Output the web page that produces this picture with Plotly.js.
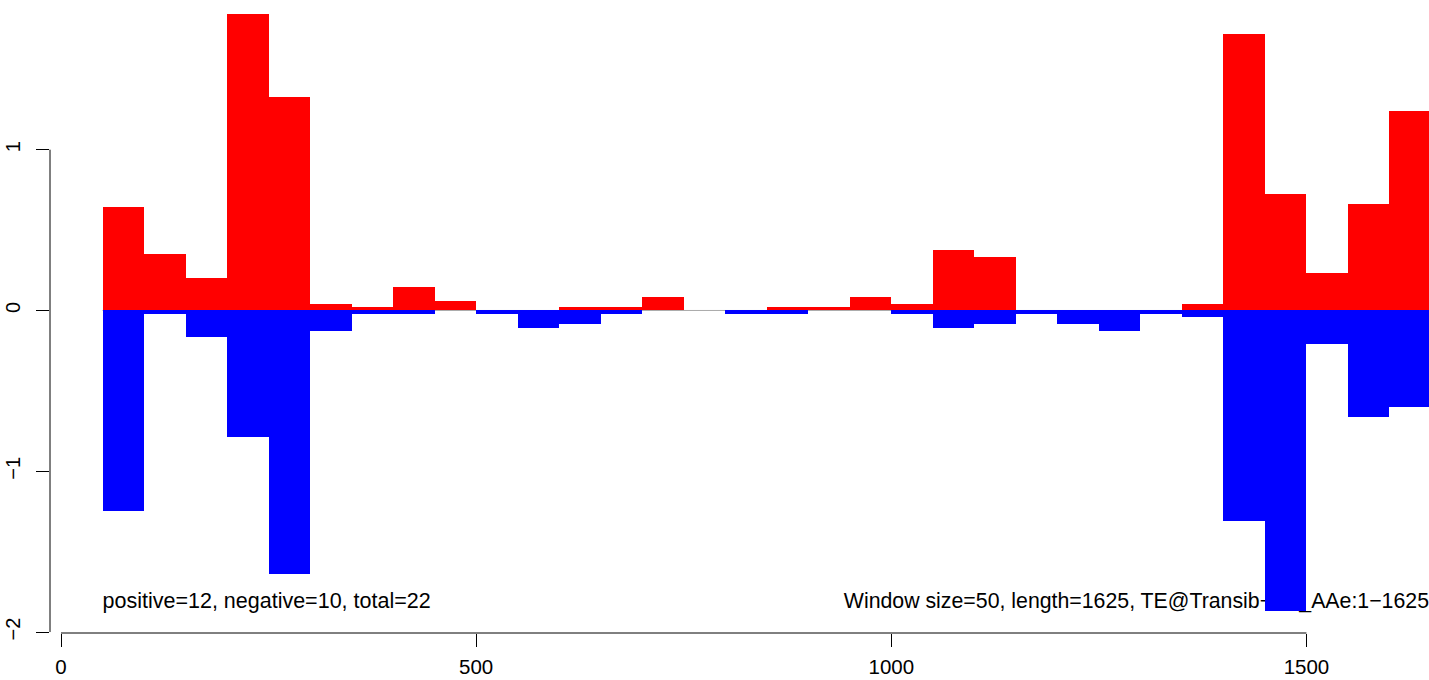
<!DOCTYPE html>
<html>
<head>
<meta charset="utf-8">
<script src="https://cdn.plot.ly/plotly-3.0.1.min.js"></script>
<style>html,body{margin:0;padding:0;background:#fff;}#chart{width:1429px;height:680px;}</style>
</head>
<body>
<div id="chart"></div>
<script>
// Window start positions (window size 50)
const windowStart = [50,100,150,200,250,300,350,400,450,500,550,600,650,700,750,800,
                     850,900,950,1000,1050,1100,1150,1200,1250,1300,1350,1400,1450,1500,1550,1600];
const windowSize = 50;
const positiveVals = [0.646,0.354,0.205,1.845,1.329,0.043,0.019,0.143,0.062,0,0,0.019,0.019,0.081,0,0,
                      0.019,0.019,0.081,0.043,0.379,0.330,0,0,0,0,0.043,1.720,0.727,0.230,0.665,1.242];
const negativeVals = [-1.246,-0.025,-0.166,-0.787,-1.638,-0.128,-0.025,-0.025,0,-0.025,-0.106,-0.085,-0.025,0,0,-0.025,
                      -0.025,0,0,-0.025,-0.106,-0.085,-0.025,-0.085,-0.130,-0.025,-0.043,-1.309,-1.868,-0.209,-0.663,-0.600];
const xTicks = [0,500,1000,1500];
const yTicks = [-2,-1,0,1];
const leftNote = "positive=12, negative=10, total=22";
const rightNote = "Window size=50, length=1625, TE@Transib\u2212N4_AAe:1\u22121625";

const FONT = "Liberation Sans, Arial, Helvetica, sans-serif";
const xRange = [-13.25, 1647.6];
const yRange = [-2.006, 1.931];
const centers = windowStart.map(s => s + windowSize/2);

const traces = [
  {type:'scatter', mode:'text', x:[50], y:[-1.82], text:[leftNote], textposition:'middle right',
   textfont:{family:FONT,size:21.5,color:'#000'}, hoverinfo:'skip', showlegend:false, cliponaxis:false,
   xaxis:'x', yaxis:'y'},
  {type:'scatter', mode:'text', x:[1647.6], y:[-1.82], text:[rightNote], textposition:'middle left',
   textfont:{family:FONT,size:21.3,color:'#000'}, hoverinfo:'skip', showlegend:false, cliponaxis:false,
   xaxis:'x', yaxis:'y'},
  {type:'bar', x:centers, y:positiveVals, width:windowSize, marker:{color:'#FF0000', line:{width:0}},
   showlegend:false, xaxis:'x2', yaxis:'y2'},
  {type:'bar', x:centers, y:negativeVals, width:windowSize, marker:{color:'#0000FF', line:{width:0}},
   showlegend:false, xaxis:'x2', yaxis:'y2'}
];

const layout = {
  width:1429, height:680,
  margin:{l:50, r:0, t:0, b:47, pad:0},
  paper_bgcolor:'#fff', plot_bgcolor:'#fff',
  barmode:'overlay', bargap:0,
  showlegend:false,
  font:{family:FONT, size:20, color:'#000'},
  xaxis:{range:xRange, tickmode:'array', tickvals:xTicks, ticktext:xTicks.map(String),
         ticks:'outside', ticklen:13, tickwidth:1, tickcolor:'#000',
         showgrid:false, zeroline:false, showline:false,
         tickfont:{family:FONT,size:20.5,color:'#000'}, ticklabelstandoff:2},
  yaxis:{range:yRange, tickmode:'array', tickvals:yTicks,
         ticks:'outside', ticklen:13, tickwidth:1, tickcolor:'#000', tickangle:-90,
         showgrid:false, zeroline:false, showline:false,
         tickfont:{family:FONT,size:20,color:'#000'}, ticklabelstandoff:8},
  xaxis2:{range:xRange, overlaying:'x', visible:false, showgrid:false, zeroline:false},
  yaxis2:{range:yRange, overlaying:'y', visible:false, showgrid:false, zeroline:false},
  shapes:[
    {type:'line', layer:'below', xref:'x', yref:'y', x0:50, x1:1650, y0:0, y1:0, line:{color:'#aaaaaa', width:1}},
    {type:'line', xref:'x', yref:'paper', x0:0, x1:1500, y0:0, y1:0, line:{color:'#000', width:1}},
    {type:'line', xref:'paper', yref:'y', x0:0, x1:0, y0:-2, y1:1, line:{color:'#000', width:1}}
  ]
};

Plotly.newPlot('chart', traces, layout, {displayModeBar:false, staticPlot:true});
</script>
</body>
</html>
